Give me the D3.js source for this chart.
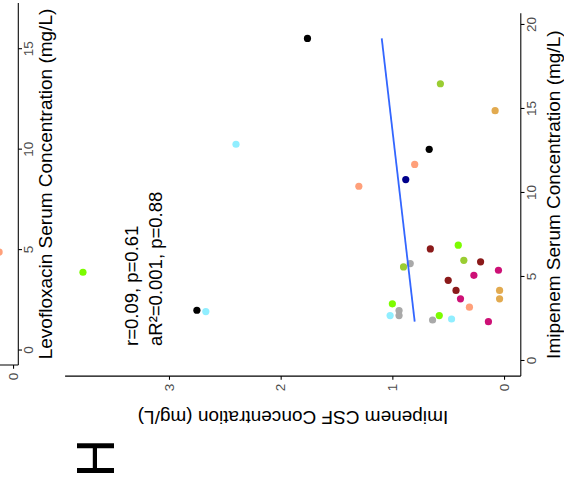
<!DOCTYPE html>
<html><head><meta charset="utf-8">
<script src="https://cdn.jsdelivr.net/npm/d3@7/dist/d3.min.js"></script>
<style>
body{margin:0;background:#fff}
svg{display:block}
text{font-family:"Liberation Sans",Arial,Helvetica,sans-serif}
</style>
</head><body>
<svg id="chart" width="564" height="485"></svg>
<script>
// ---- data ----
const patient = ["P1","P2","P3","P4","P5","P4","P6","P7","P1","P8","P1","P6","P9","P9","P6","P6","P9","P2","P2","P4","P9","P7","P8","P8","P10","P8","P7","P10","P3","P10","P7","P10","P3"];
const imipenemSerum = [16.5,14.9,12.6,11.7,10.8,10.4,6.67,6.89,5.6,5.8,5.99,5.9,5.4,5.1,4.8,4.2,3.7,4.2,3.7,3.2,2.34,3.4,3.0,2.7,2.7,2.44,2.7,2.5,3.02,2.94,5.28,12.9,19.2];
const imipenemCSF   = [0.57,0.08,0.67,0.80,0.88,1.30,0.66,0.41,0.90,0.84,0.36,0.21,0.05,0.27,0.50,0.43,0.39,0.04,0.04,0.31,0.14,1.00,0.94,0.94,1.02,0.64,0.58,0.47,2.75,2.67,3.77,2.40,1.76];
const patientNames  = ["P1","P2","P3","P4","P5","P6","P7","P8","P9","P10"];
const patientColors = ["#9ACD32","#E2AA4F","#000000","#FFA07A","#00008B","#8B1A1A","#7CFC00","#A9A9A9","#CD1076","#90EEFF"];
const fitSerum = [2.34, 19.2];
const fitCSF   = [0.80, 1.095];
const serumTicks = [0,5,10,15,20];
const csfTicks   = [0,1,2,3];
const serumLimits = [-0.9, 20.7];
const csfLimits   = [-0.15, 3.93];
const statLines = ["r=0.09, p=0.61", "aR\u00B2=0.001, p=0.88"];
const xTitle = "Imipenem Serum Concentration (mg/L)";
const yTitle = "Imipenem CSF Concentration (mg/L)";
const panelLabel = "H";
// neighbouring (cut-off) panel
const levoSerum = [4.9];
const levoCSF   = [0.125];
const levoPatient = ["P4"];
const levoTicks = [0,5,10,15];
const levoLimits = [-0.72, 17.3];
const levoTitle = "Levofloxacin Serum Concentration (mg/L)";

// ---- drawing ----
const svg = d3.select("#chart");
// whole figure is rotated 90deg counter-clockwise
const root = svg.append("g").attr("transform","translate(0,485) rotate(-90)");
const color = d3.scaleOrdinal().domain(patientNames).range(patientColors);

const P = {left:108.9, right:471.8, top:65.1, bottom:520.8};
const x = d3.scaleLinear().domain(serumLimits).range([P.left, P.right]);
const y = d3.scaleLinear().domain(csfLimits).range([P.bottom, P.top]);

function styleAxis(g){
  g.select(".domain").remove();
  g.selectAll(".tick line").attr("stroke","#000").attr("stroke-width",1.07);
  g.selectAll(".tick text").attr("fill","#4D4D4D").attr("font-size",13.5)
   .attr("font-family","Liberation Sans, Arial, sans-serif");
}

// x axis
const gx = root.append("g").attr("transform",`translate(0,${P.bottom})`)
  .call(d3.axisBottom(x).tickValues(serumTicks).tickSize(3.7).tickPadding(1.5).tickFormat(d3.format("d")));
styleAxis(gx);
// y axis
const gy = root.append("g").attr("transform",`translate(${P.left},0)`)
  .call(d3.axisLeft(y).tickValues(csfTicks).tickSize(3.7).tickPadding(4).tickFormat(d3.format("d")));
styleAxis(gy);
// axis lines
root.append("line").attr("x1",P.left).attr("x2",P.right).attr("y1",P.bottom).attr("y2",P.bottom)
  .attr("stroke","#000").attr("stroke-width",1.07);
root.append("line").attr("x1",P.left).attr("x2",P.left).attr("y1",P.top).attr("y2",P.bottom)
  .attr("stroke","#000").attr("stroke-width",1.07);

// titles
root.append("text").attr("x",(P.left+P.right)/2).attr("y",560).attr("text-anchor","middle")
  .attr("font-size",19).attr("fill","#000").text(xTitle);
root.append("text").attr("transform",`translate(74,${(P.top+P.bottom)/2}) rotate(-90)`)
  .attr("text-anchor","middle").attr("font-size",19).attr("fill","#000").text(yTitle);

// points
const pts = imipenemSerum.map((s,i)=>({s, c:imipenemCSF[i], p:patient[i]}));
root.append("g").selectAll("circle").data(pts).join("circle")
  .attr("cx",d=>x(d.s)).attr("cy",d=>y(d.c)).attr("r",3.6)
  .attr("fill",d=>color(d.p));

// regression line
root.append("path").datum(fitSerum.map((s,i)=>[s,fitCSF[i]]))
  .attr("d",d3.line().x(d=>x(d[0])).y(d=>y(d[1])))
  .attr("fill","none").attr("stroke","#3366FF").attr("stroke-width",1.8);

// stats annotation
const ann = root.append("text").attr("font-size",18.5).attr("fill","#000");
statLines.forEach((t,i)=>{
  ann.append("tspan").attr("x",139).attr("y",138+i*24).text(t);
});

// panel label
root.append("text").attr("x",7.8).attr("y",114).attr("font-size",53).attr("fill","#000").text(panelLabel);

// ---- neighbouring panel (cut off at the image edge) ----
const L = {left:120, right:482, bottom:18.3};
const lx = d3.scaleLinear().domain(levoLimits).range([L.left, L.right]);
const ly = d3.scaleLinear().domain([-0.047, 3]).range([L.bottom, L.bottom-340]);
const glx = root.append("g").attr("transform",`translate(0,${L.bottom})`)
  .call(d3.axisBottom(lx).tickValues(levoTicks).tickSize(3.7).tickPadding(1.5).tickFormat(d3.format("d")));
styleAxis(glx);
const gly = root.append("g").attr("transform",`translate(${L.left},0)`)
  .call(d3.axisLeft(ly).tickValues([0]).tickSize(3.7).tickPadding(4).tickFormat(d3.format("d")));
styleAxis(gly);
root.append("line").attr("x1",L.left).attr("x2",L.right).attr("y1",L.bottom).attr("y2",L.bottom)
  .attr("stroke","#000").attr("stroke-width",1.07);
root.append("line").attr("x1",L.left).attr("x2",L.left).attr("y1",-20).attr("y2",L.bottom)
  .attr("stroke","#000").attr("stroke-width",1.07);
root.append("text").attr("x",(L.left+L.right)/2).attr("y",52).attr("text-anchor","middle")
  .attr("font-size",19).attr("fill","#000").text(levoTitle);
root.append("g").selectAll("circle").data(levoSerum.map((s,i)=>({s,c:levoCSF[i],p:levoPatient[i]}))).join("circle")
  .attr("cx",d=>lx(d.s)).attr("cy",d=>ly(d.c)).attr("r",3.6).attr("fill",d=>color(d.p));
</script>
</body></html>
